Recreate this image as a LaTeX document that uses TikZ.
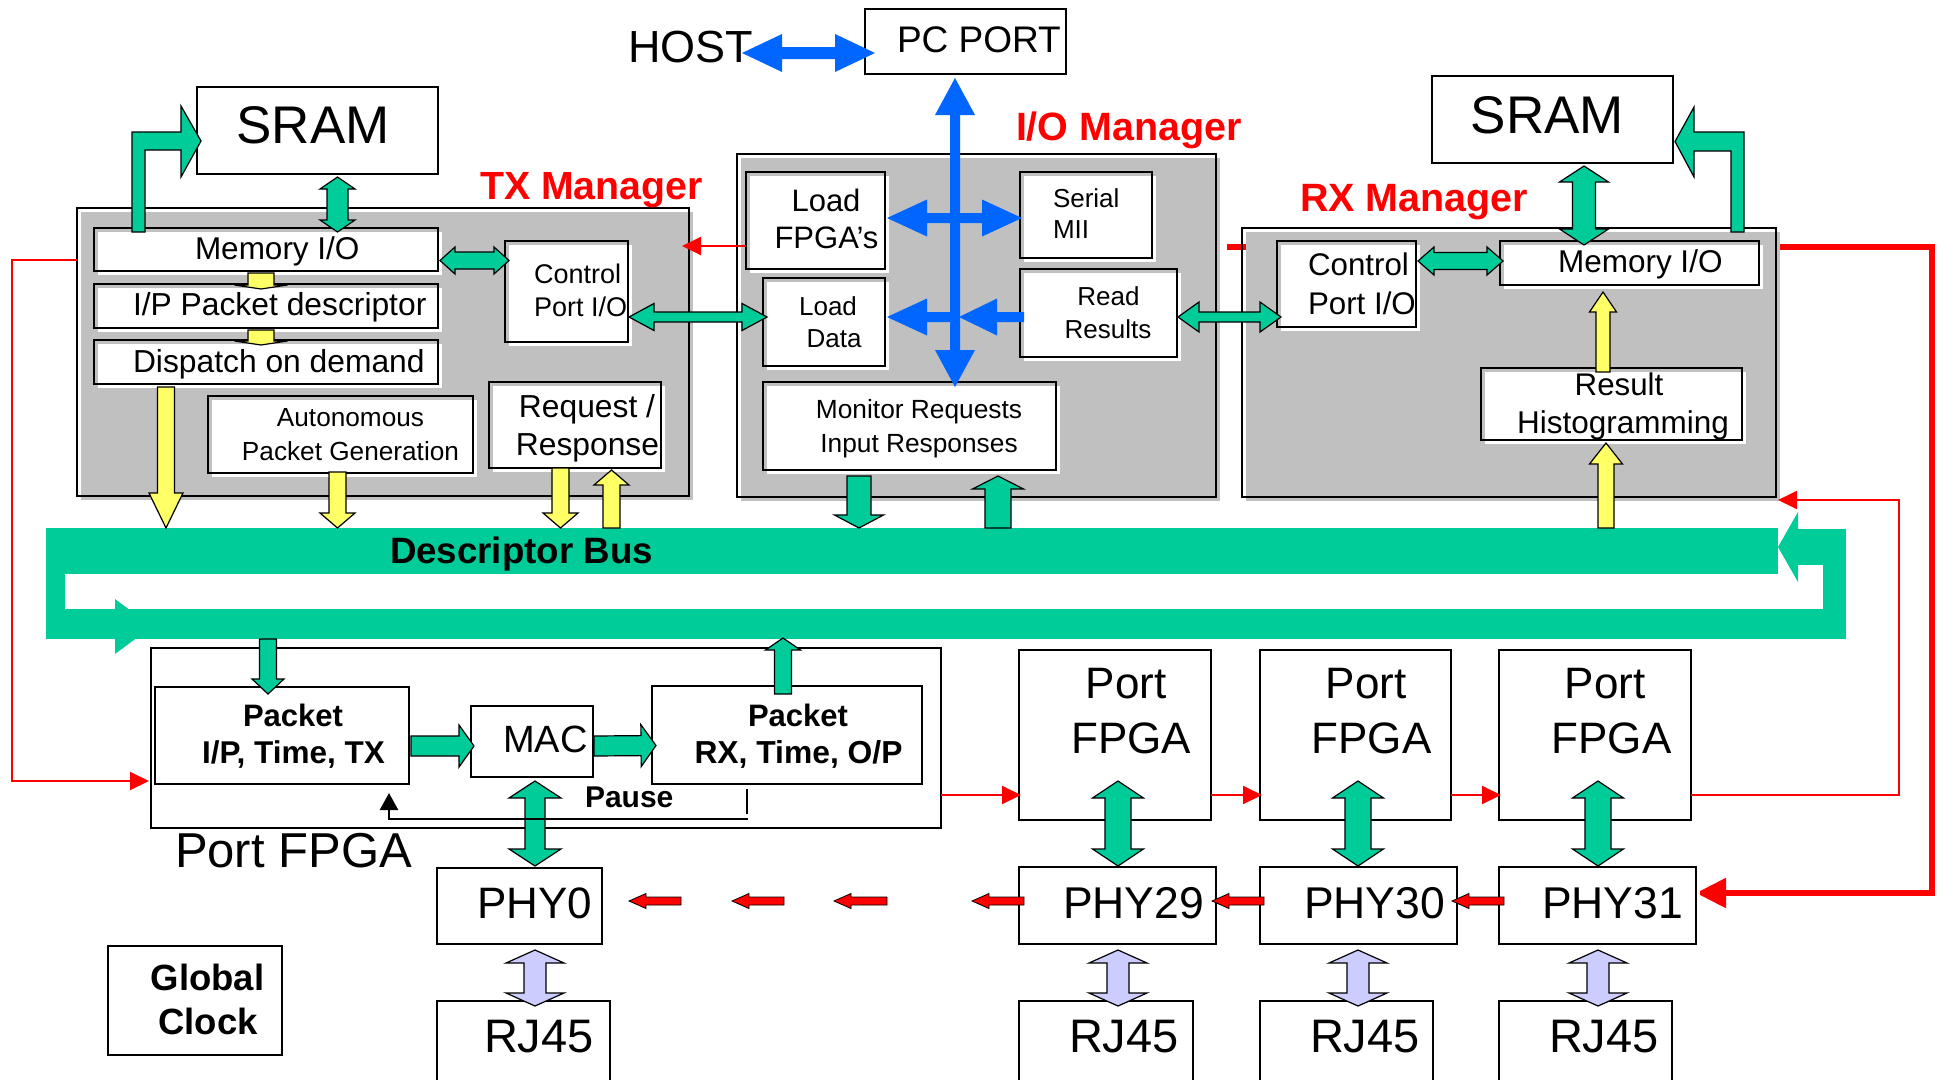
\documentclass[tikz,border=0pt]{standalone}
\usepackage{fontspec}
\setmainfont{Liberation Sans}
\usetikzlibrary{calc,arrows.meta,backgrounds}

\definecolor{busgreen}{HTML}{00CC99}
\definecolor{padyellow}{HTML}{FFFF66}
\definecolor{lav}{HTML}{CCCCFF}
\definecolor{mgrgray}{HTML}{C0C0C0}
\definecolor{hostblue}{HTML}{0066FF}
\definecolor{chainred}{HTML}{FF0000}

\newcommand{\fsz}[1]{\fontsize{#1}{#1}\selectfont}
% box node from its corners: name, x1, y1, x2, y2, style
\newcommand{\boxat}[6]{\node[#6, minimum width={(#4)-(#2)}, minimum height={(#5)-(#3)}] (#1) at ({((#2)+(#4))/2},{((#3)+(#5))/2}) {};}

\tikzset{
  every node/.style={inner sep=0pt, outer sep=0pt},
  blk/.style={draw=black, line width=1.6pt, fill=none,
    preaction={fill=#1, transform canvas={shift={(3.5pt,-3.5pt)}}}},
  blk/.default=white,
  mgr/.style={blk=mgrgray},
  txt/.style={anchor=base west},
  ctxt/.style={anchor=base},
  garrow/.style={draw=black, line width=1.2pt, fill=busgreen, line join=miter},
  yarrow/.style={draw=black, line width=1.2pt, fill=padyellow, line join=miter},
  larrow/.style={draw=black, line width=1.2pt, fill=lav, line join=miter},
  rarrow/.style={draw=black, line width=0.8pt, fill=chainred, line join=miter},
  barrow/.style={fill=hostblue},
  rline/.style={draw=chainred, line width=2pt, -{Triangle[length=19pt,width=18pt]}},
  % block arrow with one head: shaft half width, head half width, head length
  sarrow/.style n args={3}{to path={
     ($(\tikztostart)!#1pt!90:(\tikztotarget)$)
     -- ($($(\tikztotarget)!#3pt!(\tikztostart)$)!#1pt!90:(\tikztotarget)$)
     -- ($($(\tikztotarget)!#3pt!(\tikztostart)$)!#2pt!90:(\tikztotarget)$)
     -- (\tikztotarget)
     -- ($($(\tikztotarget)!#3pt!(\tikztostart)$)!#2pt!-90:(\tikztotarget)$)
     -- ($($(\tikztotarget)!#3pt!(\tikztostart)$)!#1pt!-90:(\tikztotarget)$)
     -- ($(\tikztostart)!#1pt!-90:(\tikztotarget)$) -- cycle}},
  % block arrow with heads at both ends
  darrow/.style n args={3}{to path={
     (\tikztostart)
     -- ($($(\tikztostart)!#3pt!(\tikztotarget)$)!#2pt!90:(\tikztotarget)$)
     -- ($($(\tikztostart)!#3pt!(\tikztotarget)$)!#1pt!90:(\tikztotarget)$)
     -- ($($(\tikztotarget)!#3pt!(\tikztostart)$)!#1pt!90:(\tikztotarget)$)
     -- ($($(\tikztotarget)!#3pt!(\tikztostart)$)!#2pt!90:(\tikztotarget)$)
     -- (\tikztotarget)
     -- ($($(\tikztotarget)!#3pt!(\tikztostart)$)!#2pt!-90:(\tikztotarget)$)
     -- ($($(\tikztotarget)!#3pt!(\tikztostart)$)!#1pt!-90:(\tikztotarget)$)
     -- ($($(\tikztostart)!#3pt!(\tikztotarget)$)!#1pt!-90:(\tikztotarget)$)
     -- ($($(\tikztostart)!#3pt!(\tikztotarget)$)!#2pt!-90:(\tikztotarget)$)
     -- cycle}},
}

\begin{document}
\begin{tikzpicture}[x=1pt,y=-1pt]
\useasboundingbox (0,0) rectangle (1940,1079);

% ---------- blocks ----------
\boxat{pcport}{865}{9}{1066}{74}{blk}
\boxat{txmgr}{77}{208}{689}{496}{mgr}
\boxat{iomgr}{737}{154}{1216}{497}{mgr}
\boxat{rxmgr}{1242}{228}{1776}{497}{mgr}
\boxat{sramL}{197}{87}{438}{174}{blk}
\boxat{sramR}{1432}{76}{1673}{163}{blk}
\boxat{memL}{94}{228}{438}{271}{blk}
\boxat{ipd}{94}{284}{438}{328}{blk}
\boxat{disp}{94}{340}{438}{384}{blk}
\boxat{ctlL}{505}{241}{628}{342}{blk}
\boxat{auto}{208}{396}{473}{473}{blk}
\boxat{rr}{489}{382}{661}{468}{blk}
\boxat{lfpga}{746}{172}{885}{269}{blk}
\boxat{serial}{1020}{172}{1152}{258}{blk}
\boxat{ldata}{763}{278}{885}{366}{blk}
\boxat{rres}{1020}{269}{1177}{357}{blk}
\boxat{mon}{763}{382}{1056}{470}{blk}
\boxat{ctlR}{1277}{241}{1416}{327}{blk}
\boxat{memR}{1500}{241}{1759}{285}{blk}
\boxat{hist}{1481}{368}{1742}{440}{blk}
\boxat{pf0}{151}{648}{941}{828}{blk}
\boxat{pkin}{155}{687}{409}{784}{blk}
\boxat{mac}{471}{706}{593}{777}{blk}
\boxat{pkout}{652}{686}{922}{784}{blk}
\boxat{phy0}{437}{868}{602}{944}{blk}
\boxat{rj0}{437}{1001}{610}{1100}{blk}
\boxat{gclk}{108}{946}{282}{1055}{blk}
\boxat{pf29}{1019}{650}{1211}{820}{blk}
\boxat{pf30}{1260}{650}{1451}{820}{blk}
\boxat{pf31}{1499}{650}{1691}{820}{blk}
\boxat{phy29}{1019}{867}{1216}{944}{blk}
\boxat{phy30}{1260}{867}{1457}{944}{blk}
\boxat{phy31}{1499}{867}{1696}{944}{blk}
\boxat{rj29}{1019}{1001}{1193}{1100}{blk}
\boxat{rj30}{1260}{1001}{1433}{1100}{blk}
\boxat{rj31}{1499}{1001}{1672}{1100}{blk}

\node[txt, font=\fsz{45}] (host) at (628,62) {HOST};

% ---------- page background and the PHY chain feed (runs behind the RX block) ----------
\begin{pgfonlayer}{background}
  \fill[white] (0,0) rectangle (1940,1079);
  \draw[line width=5.3pt, chainred, line join=miter, -{Triangle[length=30pt,width=29pt]}]
    ($(rxmgr.north west)+(-15,19)$) -- ++(705,0) |- ($(phy31.east)+(0,-12.5)$);
\end{pgfonlayer}

% ---------- descriptor bus loop ----------
\fill[busgreen] (46,528) rectangle (1778,574);
\fill[busgreen] (46,528) rectangle (65,639);
\fill[busgreen] (46,609) rectangle (1846,639);
\fill[busgreen] (115,599) -- (152,626.5) -- (115,654) -- cycle;
\fill[busgreen] (1823,529) rectangle (1846,639);
\fill[busgreen] (1798,529) rectangle (1846,565);
\fill[busgreen] (1798,512) -- (1778,547) -- (1798,582) -- cycle;

\coordinate (bus-disp) at (166,528);
\coordinate (bus-auto) at (337.5,528);
\coordinate (bus-rrd) at (560.5,528);
\coordinate (bus-rru) at (611.5,528);
\coordinate (bus-iod) at (859,528);
\coordinate (bus-iou) at (998,528);
\coordinate (bus-hist) at (1606,528);
\coordinate (bus-pkin) at (268,639);
\coordinate (bus-pkout) at (783,638);
\coordinate (iobus) at (955,317);

% ---------- host and I/O manager (blue) ----------
\fill[barrow, darrow={6}{19}{40}] ($(host.base east)+(-11,-9)$) to ($(pcport.south west)+(10,-21)$);
\fill[barrow, darrow={5}{20}{37}] ($(pcport.south)+(-10.5,4)$) to ($(mon.north west)+(192,5)$);
\fill[barrow, darrow={5}{18.5}{40}] ($(lfpga.east)+(2,-2.5)$) to ($(serial.west)+(2,3)$);
\fill[barrow, sarrow={5}{18.5}{40}] (iobus) to ($(ldata.east)+(2,-5)$);
\fill[barrow, sarrow={5}{18.5}{38}] ($(rres.west)+(4,4)$) to ($(iobus)+(4,0)$);

% ---------- green data paths ----------
\draw[garrow] ($(memL.north west)+(38,4)$) |- ($(sramL.west)+(-16,1.5)$) -- ++(0,-26)
  -- ($(sramL.west)+(4,10.5)$) -- ++(-20,36) -- ++(0,-27) -- ++(-36,0) -- ++(0,82) -- cycle;
\draw[garrow] ($(rxmgr.north east)+(-32,4)$) |- ($(sramR.east)+(21,12.5)$) -- ++(0,-25)
  -- ($(sramR.east)+(2,22)$) -- ++(19,35.5) -- ++(0,-26) -- ++(37,0) -- ++(0,81) -- cycle;
\draw[garrow, darrow={10.5}{17.5}{12}] ($(sramL.south)+(20,3)$) to ($(memL.north)+(71.5,4)$);
\draw[garrow, darrow={8.5}{13.5}{15}] ($(memL.east)+(2,11)$) to ($(ctlL.west)+(4,-31)$);
\draw[garrow, darrow={5}{13.5}{25}] ($(ctlL.east)+(1,25.5)$) to ($(ldata.west)+(4,-5)$);
\draw[garrow, darrow={5}{15}{21}] ($(rres.east)+(1,4)$) to ($(ctlR.west)+(4,33)$);
\draw[garrow, darrow={8.5}{14}{16}] ($(ctlR.east)+(2,-23)$) to ($(memR.west)+(3,-2)$);
\draw[garrow, darrow={11.5}{24.5}{16}] ($(sramR.south)+(31.5,3)$) to ($(memR.north)+(-45.5,4)$);
\draw[garrow, sarrow={12}{24.5}{13}] ($(mon.south west)+(96,6)$) to (bus-iod);
\draw[garrow, sarrow={13}{25.5}{13}] (bus-iou) to ($(mon.south west)+(235,6)$);
\draw[garrow, sarrow={8.5}{16}{15}] (bus-pkin) to ($(pkin.north)+(-14,7)$);
\draw[garrow, sarrow={8.5}{17.5}{12}] ($(pkout.north west)+(131,8)$) to (bus-pkout);
\draw[garrow, sarrow={10}{21}{15}] ($(pkin.east)+(2,10.5)$) to ($(mac.west)+(3,4.5)$);
\draw[garrow, sarrow={10}{21}{15}] ($(mac.east)+(1,4.5)$) to ($(pkout.west)+(4,10.5)$);
\draw[garrow, darrow={10}{26}{17}] ($(mac.south)+(3,4)$) to ($(phy0.north)+(15.5,-2)$);
\draw[garrow, darrow={13}{25.5}{17}] ($(pf29.south)+(3,-39)$) to ($(phy29.north)+(0.5,-1)$);
\draw[garrow, darrow={13}{25.5}{17}] ($(pf30.south)+(2.5,-39)$) to ($(phy30.north)+(-0.5,-1)$);
\draw[garrow, darrow={13}{25.5}{17}] ($(pf31.south)+(3,-39)$) to ($(phy31.north)+(0.5,-1)$);

% ---------- yellow descriptor paths ----------
\draw[yarrow, sarrow={8.5}{17}{35}] ($(disp.south west)+(72,3)$) to (bus-disp);
\draw[yarrow, sarrow={8.5}{17.5}{15}] ($(auto.south)+(-3,-1)$) to (bus-auto);
\draw[yarrow, sarrow={8.5}{17.5}{15}] ($(rr.south)+(-14.5,0)$) to (bus-rrd);
\draw[yarrow, sarrow={8.5}{17.5}{15}] (bus-rru) to ($(rr.south)+(36.5,2)$);
\draw[yarrow, sarrow={7}{13.5}{20}] ($(hist.north)+(-8.5,4)$) to ($(memR.south)+(-26.5,7)$);
\draw[yarrow, sarrow={8}{16.5}{21}] (bus-hist) to ($(hist.south)+(-5.5,3)$);
\draw[yarrow, sarrow={13}{26.5}{4}] ($(memL.south)+(-5,2)$) to ($(ipd.north)+(-5,5)$);
\draw[yarrow, sarrow={13}{26.5}{4}] ($(ipd.south)+(-5,2)$) to ($(disp.north)+(-5,5)$);

% ---------- PHY to RJ45 links ----------
\draw[larrow, darrow={11}{29}{13}] ($(phy0.south)+(15.5,6)$) to ($(rj0.north)+(11.5,5)$);
\draw[larrow, darrow={11}{29}{13}] ($(phy29.south)+(0.5,6)$) to ($(rj29.north)+(12,5)$);
\draw[larrow, darrow={11}{29}{13}] ($(phy30.south)+(-0.5,6)$) to ($(rj30.north)+(11.5,5)$);
\draw[larrow, darrow={11}{29}{13}] ($(phy31.south)+(0.5,6)$) to ($(rj31.north)+(12.5,5)$);

% ---------- PHY chain ----------
\coordinate (chA) at (972,901);
\coordinate (chB1) at (887,901) ; \coordinate (chB2) at (834,901);
\coordinate (chC1) at (784,901) ; \coordinate (chC2) at (732,901);
\coordinate (chD1) at (681,901) ; \coordinate (chD2) at (629,901);
\draw[rarrow, sarrow={4}{7.5}{17}] ($(phy31.west)+(5,-4.5)$) to ($(phy30.east)+(-5,-4.5)$);
\draw[rarrow, sarrow={4}{7.5}{17}] ($(phy30.west)+(4,-4.5)$) to ($(phy29.east)+(-4,-4.5)$);
\draw[rarrow, sarrow={4}{7.5}{17}] ($(phy29.west)+(5,-4.5)$) to (chA);
\draw[rarrow, sarrow={4}{7.5}{17}] (chB1) to (chB2);
\draw[rarrow, sarrow={4}{7.5}{17}] (chC1) to (chC2);
\draw[rarrow, sarrow={4}{7.5}{17}] (chD1) to (chD2);

% ---------- configuration chain (thin red) ----------
\draw[rline] ($(lfpga.west)+(0,25.5)$) -- ($(txmgr.north east)+(-7,38)$);
\draw[rline] ($(txmgr.north west)+(0,52)$) -- ++(-65,0) |- ($(pf0.south west)+(-2,-47)$);
\draw[rline] ($(pf0.east)+(0,57)$) -- ($(pf29.west)+(2,60)$);
\draw[rline] ($(pf29.east)+(0,60)$) -- ($(pf30.west)+(2,60)$);
\draw[rline] ($(pf30.east)+(0,60)$) -- ($(pf31.west)+(2,60)$);
\draw[rline] ($(pf31.east)+(0,60)$) -- ++(208,0) |- ($(rxmgr.south east)+(2,3)$);

% ---------- pause feedback ----------
\draw[line width=2.5pt] ($(pkout.south)+(-40,5)$) -- ++(0,25);
\draw[line width=2.5pt, -{Triangle[length=17pt,width=18pt]}]
  ($(pkout.south)+(-39,35)$) -| ($(pkin.south)+(107,9)$);

% ---------- labels ----------
\node[txt, font=\fsz{37}] (pcport-t) at (897,52) {PC PORT};
\node[txt, font={\fsz{39.3}\bfseries}, text=chainred] (txlbl) at (480,199) {TX Manager};
\node[txt, font={\fsz{39.5}\bfseries}, text=chainred] (iolbl) at (1016,140) {I/O Manager};
\node[txt, font={\fsz{39.5}\bfseries}, text=chainred] (rxlbl) at (1300,211) {RX Manager};
\node[ctxt, font=\fsz{53}] (sramL-t) at (313,143) {SRAM};
\node[ctxt, font=\fsz{53}] (sramR-t) at (1547.5,133) {SRAM};
\node[txt, font=\fsz{31.5}] (memL-t) at (195,259) {Memory I/O};
\node[txt, font=\fsz{31.8}] (ipd-t) at (133,315) {I/P Packet descriptor};
\node[txt, font=\fsz{31.8}] (disp-t) at (133,372) {Dispatch on demand};
\node[txt, font=\fsz{27}] (ctlL-t1) at (534,283) {Control};
\node[txt, font=\fsz{27}] (ctlL-t2) at (534,316) {Port I/O};
\node[ctxt, font=\fsz{26.2}] (auto-t1) at (350.5,426) {Autonomous};
\node[ctxt, font=\fsz{26.2}] (auto-t2) at (350.5,460) {Packet Generation};
\node[ctxt, font=\fsz{31.8}] (rr-t1) at (587,417) {Request /};
\node[ctxt, font=\fsz{31.8}] (rr-t2) at (587.5,455) {Response};
\node[ctxt, font=\fsz{31}] (lfpga-t1) at (826,211) {Load};
\node[ctxt, font=\fsz{31}] (lfpga-t2) at (826.5,248) {FPGA’s};
\node[txt, font=\fsz{26}] (serial-t1) at (1053,207) {Serial};
\node[txt, font=\fsz{26}] (serial-t2) at (1053,238) {MII};
\node[ctxt, font=\fsz{26}] (ldata-t1) at (828,315) {Load};
\node[ctxt, font=\fsz{26}] (ldata-t2) at (834,347) {Data};
\node[ctxt, font=\fsz{26}] (rres-t1) at (1108.5,305) {Read};
\node[ctxt, font=\fsz{26}] (rres-t2) at (1108,338) {Results};
\node[ctxt, font=\fsz{26.3}] (mon-t1) at (919,418) {Monitor Requests};
\node[ctxt, font=\fsz{26.3}] (mon-t2) at (919,452) {Input Responses};
\node[txt, font=\fsz{31.3}] (ctlR-t1) at (1308,275) {Control};
\node[txt, font=\fsz{31.3}] (ctlR-t2) at (1308,314) {Port I/O};
\node[txt, font=\fsz{31.5}] (memR-t) at (1558,272) {Memory I/O};
\node[ctxt, font=\fsz{31.3}] (hist-t1) at (1619,395) {Result};
\node[ctxt, font=\fsz{31.5}] (hist-t2) at (1623,433) {Histogramming};
\node[txt, font={\fsz{36.7}\bfseries}] (buslbl) at (390,563) {Descriptor Bus};
\node[ctxt, font={\fsz{31}\bfseries}] (pkin-t1) at (293,726) {Packet};
\node[ctxt, font={\fsz{31.5}\bfseries}] (pkin-t2) at (293.5,763) {I/P, Time, TX};
\node[txt, font=\fsz{38}] (mac-t) at (503,752) {MAC};
\node[ctxt, font={\fsz{31}\bfseries}] (pkout-t1) at (798,726) {Packet};
\node[ctxt, font={\fsz{31.8}\bfseries}] (pkout-t2) at (798.5,763) {RX, Time, O/P};
\node[txt, font={\fsz{30}\bfseries}] (pause-t) at (585,807) {Pause};
\node[txt, font=\fsz{49}] (pf0-t) at (175,867) {Port FPGA};
\node[ctxt, font={\fsz{36.5}\bfseries}] (gclk-t1) at (207.5,990) {Global};
\node[ctxt, font={\fsz{36.5}\bfseries}] (gclk-t2) at (208,1034) {Clock};
\node[txt, font=\fsz{44}] (phy0-t) at (477,918) {PHY0};
\node[txt, font=\fsz{44.5}] (phy29-t) at (1063,918) {PHY29};
\node[txt, font=\fsz{44.5}] (phy30-t) at (1304,918) {PHY30};
\node[txt, font=\fsz{44.5}] (phy31-t) at (1542,918) {PHY31};
\node[txt, font=\fsz{47}] (rj0-t) at (484,1052) {RJ45};
\node[txt, font=\fsz{47}] (rj29-t) at (1069,1052) {RJ45};
\node[txt, font=\fsz{47}] (rj30-t) at (1310,1052) {RJ45};
\node[txt, font=\fsz{47}] (rj31-t) at (1549,1052) {RJ45};
\node[ctxt, font=\fsz{44}] (pf29-t1) at (1126,698) {Port};
\node[ctxt, font=\fsz{44}] (pf29-t2) at (1131,753) {FPGA};
\node[ctxt, font=\fsz{44}] (pf30-t1) at (1366,698) {Port};
\node[ctxt, font=\fsz{44}] (pf30-t2) at (1371.5,753) {FPGA};
\node[ctxt, font=\fsz{44}] (pf31-t1) at (1605,698) {Port};
\node[ctxt, font=\fsz{44}] (pf31-t2) at (1611.5,753) {FPGA};
\end{tikzpicture}
\end{document}
